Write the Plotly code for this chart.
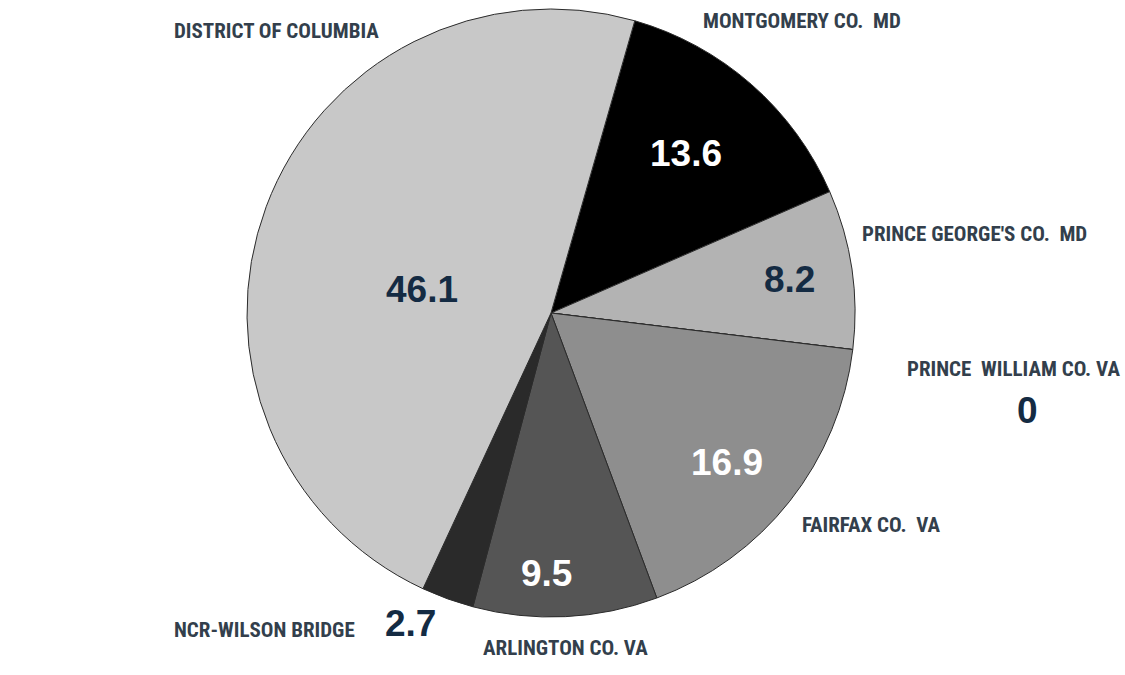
import plotly.graph_objects as go

# Share by jurisdiction (percent)
regions = [
    "MONTGOMERY CO.\u00a0 MD",
    "PRINCE GEORGE'S CO.\u00a0 MD",
    "PRINCE\u00a0 WILLIAM CO. VA",
    "FAIRFAX CO.\u00a0 VA",
    "ARLINGTON CO. VA",
    "NCR-WILSON BRIDGE",
    "DISTRICT OF COLUMBIA",
]
values = [13.6, 8.2, 0, 16.9, 9.5, 2.7, 46.1]
slice_colors = ["#000000", "#b3b3b3", "#a0a0a0", "#8e8e8e", "#555555", "#2a2a2a", "#c8c8c8"]
value_colors = ["#ffffff", "#142b43", "#142b43", "#ffffff", "#ffffff", "#142b43", "#142b43"]

# Label placement in pixels (x, y) on a 1125 x 675 canvas
name_pos = [(701, 21), (860, 234), (905, 369), (800, 525), (481, 648), (172, 630), (172, 31)]
value_pos = [(686, 153), (789, 280), (1027, 410), (727, 462), (546, 573), (410, 623), (422, 290)]

W, H = 1125, 675
cx, cy, r = 551, 313, 304

fig = go.Figure(
    go.Pie(
        labels=regions,
        values=values,
        sort=False,
        direction="clockwise",
        rotation=16,
        marker=dict(colors=slice_colors, line=dict(color="#2b2b2b", width=1)),
        textinfo="none",
        hoverinfo="label+value",
        showlegend=False,
        domain=dict(x=[(cx - r) / W, (cx + r) / W], y=[1 - (cy + r) / H, 1 - (cy - r) / H]),
    )
)

annotations = []
for name, (px, py) in zip(regions, name_pos):
    annotations.append(dict(
        text=name, x=px / W, y=1 - py / H, xref="paper", yref="paper",
        xanchor="left", yanchor="middle", showarrow=False,
        font=dict(family="Liberation Sans Narrow, Roboto Condensed, DejaVu Sans Condensed, sans-serif",
                  size=21, color="#333f4c", weight="bold"),
    ))
for v, col, (px, py) in zip(values, value_colors, value_pos):
    annotations.append(dict(
        text=f"{v:g}", x=px / W, y=1 - py / H, xref="paper", yref="paper",
        xanchor="center", yanchor="middle", showarrow=False,
        font=dict(family="Liberation Sans, Arial Black, sans-serif", size=37, color=col, weight="bold"),
    ))

fig.update_layout(
    width=W, height=H,
    margin=dict(l=0, r=0, t=0, b=0),
    paper_bgcolor="#ffffff",
    plot_bgcolor="#ffffff",
    annotations=annotations,
)

fig.write_html("out.html")
